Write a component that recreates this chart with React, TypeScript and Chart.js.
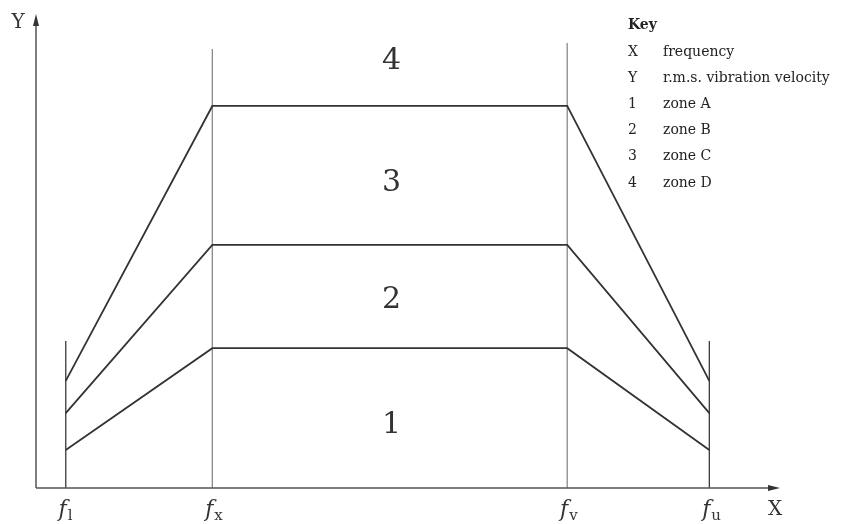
import React, { useEffect, useRef } from "react";
import { Chart, registerables } from "chart.js";

Chart.register(...registerables);

// x positions (abstract frequency units 0..100)
const freqNames = ["l", "x", "v", "u"];
const freqValues = [4.0, 23.7, 71.4, 90.5];

// boundary lines (r.m.s. velocity, abstract units 0..100)
const boundaryAB = [8.0, 29.5, 29.5, 8.0];
const boundaryBC = [15.8, 51.3, 51.3, 15.8];
const boundaryCD = [22.6, 80.6, 80.6, 22.6];

// vertical marker heights at each frequency
const markerTops = [31.0, 92.6, 93.9, 31.0];
const markerColors = ["#3a3a3a", "#8a8a8a", "#8a8a8a", "#3a3a3a"];

// zone labels
const zoneLabels = ["1", "2", "3", "4"];
const zoneX = [47.8, 47.8, 47.8, 47.8];
const zoneY = [13.3, 39.7, 64.3, 90.0];

// key
const keySymbols = ["X", "Y", "1", "2", "3", "4"];
const keyTexts = ["frequency", "r.m.s. vibration velocity", "zone A", "zone B", "zone C", "zone D"];

const SERIF = '"DejaVu Serif", "Liberation Serif", serif';

export default function App() {
  const ref = useRef<HTMLCanvasElement>(null);

  useEffect(() => {
    if (!ref.current) return;
    const lineDs = (data: number[]) => ({
      data: freqValues.map((x, i) => ({ x, y: data[i] })),
      borderColor: "#333333",
      borderWidth: 1.8,
      pointRadius: 0,
      fill: false,
      tension: 0,
    });
    const markerDs = freqValues.map((x, i) => ({
      data: [
        { x, y: 0 },
        { x, y: markerTops[i] },
      ],
      borderColor: markerColors[i],
      borderWidth: 1.3,
      pointRadius: 0,
      fill: false,
    }));

    const overlay = {
      id: "overlay",
      afterDraw(chart: any) {
        const ctx = chart.ctx as CanvasRenderingContext2D;
        const xs = chart.scales.x;
        const ys = chart.scales.y;
        const x0 = xs.getPixelForValue(0);
        const y0 = ys.getPixelForValue(0);
        const xEnd = xs.getPixelForValue(100);
        const yEnd = ys.getPixelForValue(100);
        ctx.save();
        // axes
        ctx.strokeStyle = "#555";
        ctx.fillStyle = "#333";
        ctx.lineWidth = 1.5;
        ctx.beginPath();
        ctx.moveTo(x0, y0);
        ctx.lineTo(x0, yEnd + 8);
        ctx.moveTo(x0, y0);
        ctx.lineTo(xEnd - 8, y0);
        ctx.stroke();
        // arrows
        ctx.beginPath();
        ctx.moveTo(x0, yEnd);
        ctx.lineTo(x0 - 3, yEnd + 12);
        ctx.lineTo(x0 + 3, yEnd + 12);
        ctx.closePath();
        ctx.fill();
        ctx.beginPath();
        ctx.moveTo(xEnd, y0);
        ctx.lineTo(xEnd - 12, y0 - 3);
        ctx.lineTo(xEnd - 12, y0 + 3);
        ctx.closePath();
        ctx.fill();

        // axis names
        ctx.fillStyle = "#333";
        ctx.font = `20px ${SERIF}`;
        ctx.textAlign = "center";
        ctx.textBaseline = "middle";
        ctx.fillText("Y", 18, 23);
        ctx.fillText("X", 775, 510);

        // frequency tick labels
        freqValues.forEach((v, i) => {
          const px = xs.getPixelForValue(v);
          ctx.font = `italic 22px ${SERIF}`;
          ctx.textAlign = "right";
          ctx.textBaseline = "alphabetic";
          ctx.fillText("f", px + 1, 516);
          ctx.font = `15px ${SERIF}`;
          ctx.textAlign = "left";
          ctx.fillText(freqNames[i], px + 2, 520);
        });

        // zone labels
        ctx.font = `30px ${SERIF}`;
        ctx.textAlign = "center";
        ctx.textBaseline = "middle";
        zoneLabels.forEach((t, i) => {
          ctx.fillText(t, xs.getPixelForValue(zoneX[i]), ys.getPixelForValue(zoneY[i]));
        });

        // key
        ctx.fillStyle = "#222";
        ctx.textAlign = "left";
        ctx.textBaseline = "middle";
        ctx.font = `bold 14px ${SERIF}`;
        ctx.fillText("Key", 628, 25);
        ctx.font = `14px ${SERIF}`;
        keySymbols.forEach((s, i) => {
          const y = 52 + i * 26.2;
          ctx.fillText(s, 628, y);
          ctx.fillText(keyTexts[i], 663, y);
        });
        ctx.restore();
      },
    };

    const chart = new Chart(ref.current, {
      type: "line",
      data: {
        datasets: [lineDs(boundaryAB), lineDs(boundaryBC), lineDs(boundaryCD), ...markerDs] as any,
      },
      options: {
        animation: false,
        responsive: false,
        maintainAspectRatio: false,
        layout: { padding: { left: 36, right: 61, top: 14, bottom: 36 } },
        plugins: { legend: { display: false }, tooltip: { enabled: false } },
        scales: {
          x: { type: "linear", min: 0, max: 100, display: false },
          y: { type: "linear", min: 0, max: 100, display: false },
        },
      },
      plugins: [overlay],
    });
    return () => chart.destroy();
  }, []);

  return (
    <div style={{ position: "fixed", left: 0, top: 0, width: 841, height: 524, background: "#fff" }}>
      <canvas ref={ref} width={841} height={524} style={{ width: 841, height: 524 }} />
    </div>
  );
}
